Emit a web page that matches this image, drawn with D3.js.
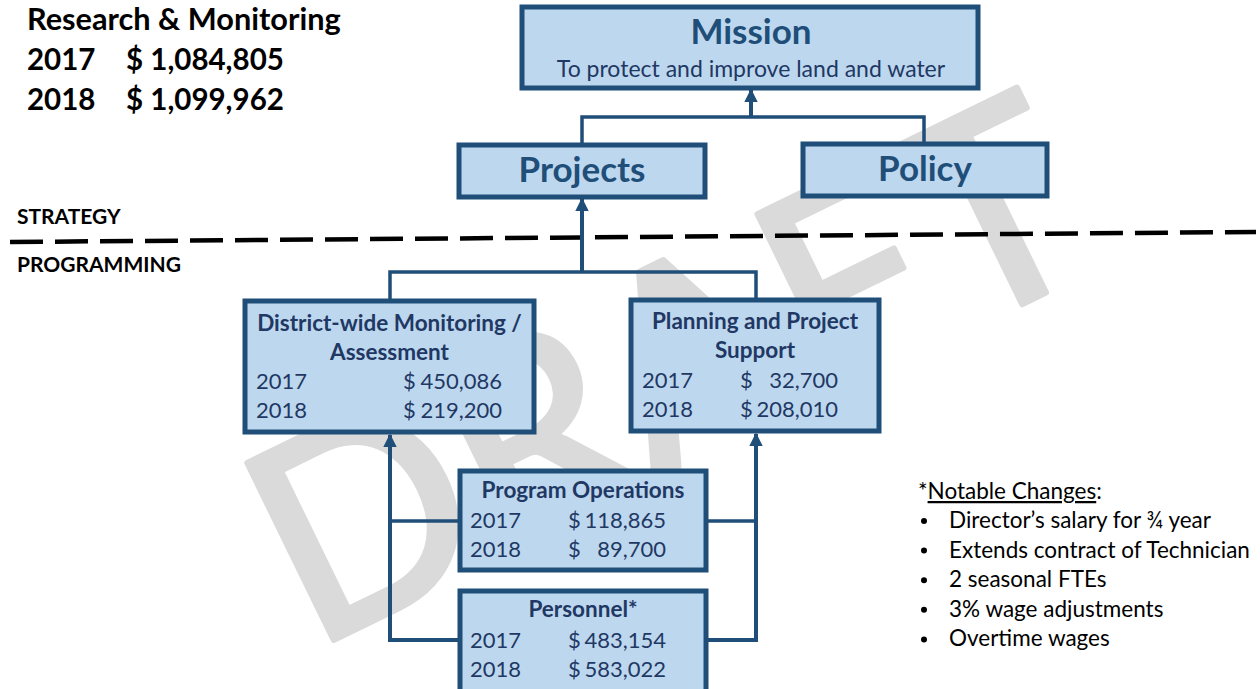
<!DOCTYPE html>
<html>
<head>
<meta charset="utf-8">
<script src="https://cdn.jsdelivr.net/npm/d3@7"></script>
<style>
  body { margin: 0; background: #fff; }
  svg { display: block; font-family: Lato, "Open Sans", sans-serif; }
</style>
</head>
<body>
<div id="chart"></div>
<script>
// values
const years = ["2017", "2018"];
const programTitle = "Research & Monitoring";
const programTotals = [1084805, 1099962];
const missionTitle = "Mission";
const missionText = "To protect and improve land and water";
const strategyBoxes = ["Projects", "Policy"];
const unitNames = [
  ["District-wide Monitoring /", "Assessment"],
  ["Planning and Project", "Support"],
  ["Program Operations"],
  ["Personnel*"]
];
const unitBudget2017 = [450086, 32700, 118865, 483154];
const unitBudget2018 = [219200, 208010, 89700, 583022];
const notesTitle = "Notable Changes";
const notableChanges = [
  "Director\u2019s salary for \u00be year",
  "Extends contract of Technician",
  "2 seasonal FTEs",
  "3% wage adjustments",
  "Overtime wages"
];

const width = 1260, height = 689;
const stroke = "#1f4e79", fill = "#bdd7ee", ink = "#1f3864";
const fmt = d3.format(",");

// box layout in page pixels
const boxes = {
  mission:  {x: 522, y: 7,   w: 456, h: 81},
  Projects: {x: 459, y: 145, w: 246, h: 52},
  Policy:   {x: 803, y: 144, w: 244, h: 52},
  unit0:    {x: 245, y: 301, w: 289, h: 131},
  unit1:    {x: 631, y: 300, w: 248, h: 131},
  unit2:    {x: 460, y: 471, w: 246, h: 99},
  unit3:    {x: 460, y: 591, w: 246, h: 110}
};

const svg = d3.select("#chart").append("svg")
  .attr("width", width).attr("height", height);

svg.append("defs").append("marker")
  .attr("id", "arrow")
  .attr("viewBox", "0 0 10 10")
  .attr("refX", 9).attr("refY", 5)
  .attr("markerWidth", 3.4).attr("markerHeight", 3.4)
  .attr("markerUnits", "strokeWidth")
  .attr("orient", "auto")
  .append("path").attr("d", "M0,0L10,5L0,10Z").attr("fill", stroke);

// DRAFT watermark behind everything
svg.append("text")
  .attr("transform", "translate(709,457) rotate(-26)")
  .attr("text-anchor", "middle")
  .attr("font-size", 275)
  .attr("fill", "#dadada")
  .attr("stroke", "#dadada")
  .attr("stroke-width", 6)
  .attr("stroke-linejoin", "round")
  .text("DRAFT");

// strategy / programming split
svg.append("line")
  .attr("x1", 10).attr("y1", 242).attr("x2", 1256).attr("y2", 232)
  .attr("stroke", "#000").attr("stroke-width", 4.5)
  .attr("stroke-dasharray", "33,12");

svg.append("text").attr("x", 17).attr("y", 224)
  .attr("font-size", 21).attr("font-weight", 700).attr("fill", "#000")
  .text("STRATEGY");
svg.append("text").attr("x", 17).attr("y", 272)
  .attr("font-size", 21).attr("font-weight", 700).attr("fill", "#000")
  .text("PROGRAMMING");

// connectors
const line = d3.line();
const connectors = [
  {pts: [[582, 145], [582, 117], [924, 117], [924, 144]], arrow: false, w: 3.5},
  {pts: [[751, 117], [751, 90]], arrow: true, w: 4},
  {pts: [[582, 272], [582, 199]], arrow: true, w: 4},
  {pts: [[390, 301], [390, 272], [756, 272], [756, 300]], arrow: false, w: 3.5},
  {pts: [[460, 640], [390, 640], [390, 435]], arrow: true, w: 4},
  {pts: [[460, 521], [390, 521]], arrow: false, w: 3.5},
  {pts: [[706, 640], [756, 640], [756, 434]], arrow: true, w: 4},
  {pts: [[706, 521], [756, 521]], arrow: false, w: 3.5}
];
svg.selectAll("path.link")
  .data(connectors)
  .join("path")
  .attr("class", "link")
  .attr("d", d => line(d.pts))
  .attr("fill", "none")
  .attr("stroke", stroke)
  .attr("stroke-width", d => d.w)
  .attr("marker-end", d => d.arrow ? "url(#arrow)" : null);

function drawBox(b) {
  svg.append("rect")
    .attr("x", b.x).attr("y", b.y).attr("width", b.w).attr("height", b.h)
    .attr("fill", fill).attr("stroke", stroke).attr("stroke-width", 5);
}

// mission
drawBox(boxes.mission);
svg.append("text").attr("x", 751).attr("y", 44)
  .attr("text-anchor", "middle").attr("font-size", 35).attr("font-weight", 700)
  .attr("fill", stroke).text(missionTitle);
svg.append("text").attr("x", 751).attr("y", 77)
  .attr("text-anchor", "middle").attr("font-size", 23)
  .attr("fill", ink).text(missionText);

// strategy boxes
strategyBoxes.forEach(name => {
  const b = boxes[name];
  drawBox(b);
  svg.append("text").attr("x", b.x + b.w / 2).attr("y", b.y + 37)
    .attr("text-anchor", "middle").attr("font-size", 35).attr("font-weight", 700)
    .attr("fill", stroke).text(name);
});

// programming units: title lines, then 2017/2018 rows
const rowLayout = [
  {yearX: 11, dollarX: 158, numEnd: 257, titleY: 30, rowY: 88},
  {yearX: 11, dollarX: 109, numEnd: 207, titleY: 29, rowY: 88},
  {yearX: 10, dollarX: 108, numEnd: 206, titleY: 27, rowY: 57},
  {yearX: 10, dollarX: 108, numEnd: 206, titleY: 26, rowY: 57}
];
unitNames.forEach((lines, i) => {
  const b = boxes["unit" + i];
  const r = rowLayout[i];
  drawBox(b);
  lines.forEach((t, j) => {
    svg.append("text").attr("x", b.x + b.w / 2).attr("y", b.y + r.titleY + j * 29)
      .attr("text-anchor", "middle").attr("font-size", 22.5).attr("font-weight", 700)
      .attr("fill", ink).text(t);
  });
  [unitBudget2017[i], unitBudget2018[i]].forEach((v, k) => {
    const y = b.y + r.rowY + k * 29;
    svg.append("text").attr("x", b.x + r.yearX).attr("y", y)
      .attr("font-size", 22).attr("fill", ink).text(years[k]);
    svg.append("text").attr("x", b.x + r.dollarX).attr("y", y)
      .attr("font-size", 22).attr("fill", ink).text("$");
    svg.append("text").attr("x", b.x + r.numEnd).attr("y", y)
      .attr("text-anchor", "end").attr("font-size", 22).attr("fill", ink).text(fmt(v));
  });
});

// program totals, top left
svg.append("text").attr("x", 27).attr("y", 30)
  .attr("font-size", 30.7).attr("font-weight", 700).attr("fill", "#000")
  .text(programTitle);
programTotals.forEach((v, k) => {
  const y = 70 + k * 40;
  svg.append("text").attr("x", 27).attr("y", y)
    .attr("font-size", 29.5).attr("font-weight", 700).attr("fill", "#000").text(years[k]);
  svg.append("text").attr("x", 126).attr("y", y)
    .attr("font-size", 29.5).attr("font-weight", 700).attr("fill", "#000").text("$ " + fmt(v));
});

// notable changes
const notes = svg.append("text").attr("x", 918).attr("y", 499)
  .attr("font-size", 22.5).attr("fill", "#000");
notes.append("tspan").text("*");
notes.append("tspan").style("text-decoration", "underline").text(notesTitle);
notes.append("tspan").text(":");

svg.selectAll("g.note")
  .data(notableChanges)
  .join("g")
  .attr("class", "note")
  .attr("transform", (d, i) => `translate(0,${528 + i * 29.6})`)
  .call(g => {
    g.append("circle").attr("cx", 924).attr("cy", -7).attr("r", 3).attr("fill", "#000");
    g.append("text").attr("x", 949).attr("font-size", 22.5).attr("fill", "#000").text(d => d);
  });
</script>
</body>
</html>
